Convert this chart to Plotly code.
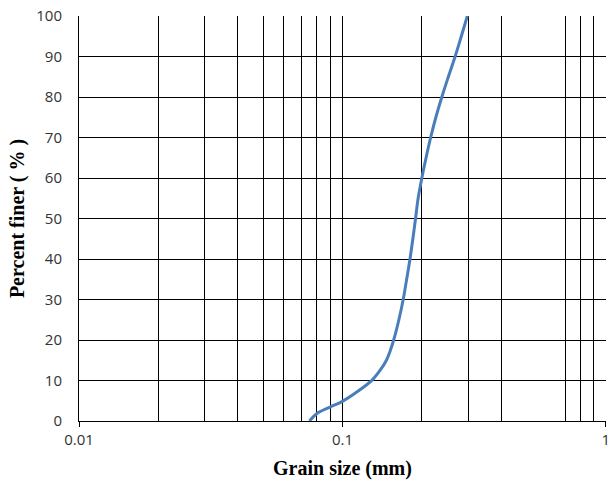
import plotly.graph_objects as go

grain_size = [0.0750, 0.0802, 0.0901, 0.0997, 0.1137, 0.1296, 0.1393, 0.1469, 0.1521,
              0.1565, 0.1603, 0.1638, 0.1701, 0.1753, 0.1805, 0.1851, 0.1895, 0.1938,
              0.2002, 0.2077, 0.2162, 0.2263, 0.2384, 0.2524, 0.2678, 0.2827, 0.2979]
percent_finer = [0.0, 1.9, 3.5, 4.8, 7.2, 10.1, 12.6, 15.0, 17.5,
                 20.0, 22.5, 25.0, 30.0, 35.0, 40.0, 45.0, 50.0, 55.0,
                 60.0, 65.0, 70.0, 75.0, 80.0, 85.0, 90.0, 95.0, 100.0]

x_grid = [0.02, 0.03, 0.04, 0.05, 0.06, 0.07, 0.08, 0.09, 0.2, 0.3, 0.4, 0.7, 0.8, 0.9]
x_ticks = [0.01, 0.1, 1]
x_tick_text = ["0.01", "0.1", "1"]
y_ticks = [0, 10, 20, 30, 40, 50, 60, 70, 80, 90, 100]
y_grid = [10, 20, 30, 40, 50, 60, 70, 80, 90]

fig = go.Figure()
fig.add_trace(go.Scatter(
    x=grain_size, y=percent_finer, mode="lines",
    line=dict(color="#4A7EBB", width=3, shape="spline", smoothing=1.0),
    showlegend=False, hoverinfo="x+y"))

tick_font = dict(family="'Open Sans', 'Liberation Sans', sans-serif", size=15, color="#333333")
title_font = dict(family="'Liberation Serif', serif", size=20, color="#000000")

fig.update_layout(
    width=609, height=482,
    margin=dict(l=79, r=3, t=16, b=61),
    paper_bgcolor="white", plot_bgcolor="white",
    xaxis=dict(
        type="log", range=[-2, 0.0005], automargin=False,
        tickmode="array", tickvals=x_ticks, ticktext=x_tick_text,
        ticks="outside", ticklen=5, tickcolor="black", tickwidth=1,
        ticklabeloverflow="allow",
        showgrid=True, gridcolor="black", gridwidth=1,
        showline=True, linecolor="black", linewidth=1,
        minor=dict(tickmode="array", tickvals=x_grid, showgrid=True,
                   gridcolor="black", gridwidth=1, ticks=""),
        tickfont=tick_font,
        title=dict(text="<b>Grain size (mm)</b>", font=title_font, standoff=12),
        zeroline=False,
    ),
    yaxis=dict(
        range=[0, 100], automargin=False,
        tickmode="array", tickvals=y_ticks,
        ticks="",
        ticklabeloverflow="allow",
        showgrid=False,
        showline=True, linecolor="black", linewidth=1,
        minor=dict(tickmode="array", tickvals=y_grid, showgrid=True,
                   gridcolor="black", gridwidth=1, ticks=""),
        tickfont=tick_font,
        ticklabelstandoff=13,
        title=dict(text="<b>Percent finer ( % )</b>", font=title_font, standoff=6),
        zeroline=False,
    ),
)

fig.write_html(
    "out.html",
    config={"displayModeBar": False},
    post_script="document.body.style.margin='0';document.body.style.overflow='hidden';",
)
